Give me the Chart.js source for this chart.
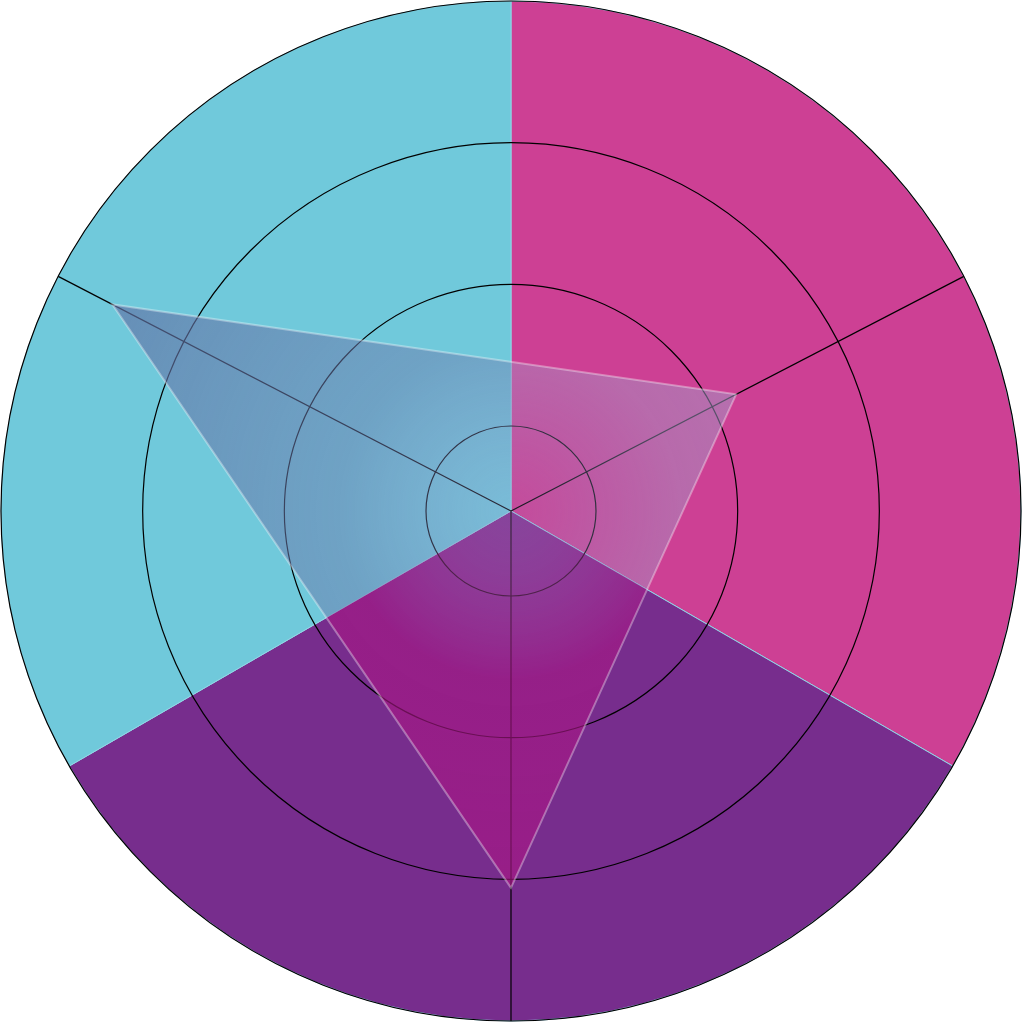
<!DOCTYPE html>
<html>
<head>
<meta charset="utf-8">
<script src="https://cdn.jsdelivr.net/npm/chart.js@4.4.0/dist/chart.umd.min.js"></script>
<style>
  html, body { margin: 0; padding: 0; background: #fff; }
  #wrap { position: relative; width: 1023px; height: 1022px; }
  #wrap canvas { position: absolute; left: 0; top: 0; }
</style>
</head>
<body>
<div id="wrap">
  <canvas id="bgChart" width="1023" height="1022"></canvas>
  <canvas id="radarChart" width="1023" height="1022"></canvas>
</div>
<script>
// background sectors (polar area, all at full scale)
const sectorLabels = ['Sector 1', 'Sector 2', 'Sector 3'];
const sectorValues = [4, 4, 4];
const sectorColors = ['#cd4094', '#772d8d', '#70c9db'];

// the radar series
const categories = ['Bottom', 'Left', 'Right'];
const seriesValues = [3.06, 3.57, 2.19];
const tickValues = [1, 2, 3, 4];
const scaleMin = 0.4;
const scaleMax = 4;

// spokes are not evenly spread, so the 3 categories sit on a finer ring of slots
const slotCount = 46;
const categorySlots = [0, 15, 31];

// tint the triangle lays over each sector, centre -> rim (same order as sectors)
const innerTints = ['rgba(150,140,200,0.15)', 'rgba(172,122,190,0.3)', 'rgba(150,150,205,0.25)'];
const midTints = ['rgba(163,149,195,0.5)', 'rgba(168,23,133,0.62)', 'rgba(110,125,175,0.5)'];
const outerTints = ['rgba(163,149,195,0.68)', 'rgba(168,23,133,0.68)', 'rgba(98,117,167,0.68)'];

const slotLabels = [];
const slotData = [];
for (let i = 0; i < slotCount; i++) {
    const k = categorySlots.indexOf(i);
    slotLabels.push(k >= 0 ? categories[k] : '');
    slotData.push(k >= 0 ? seriesValues[k] : null);
}

let fillPattern = null;
function triangleFill(ctx) {
    const chart = ctx.chart;
    const r = chart.scales.r;
    if (!r || !r.drawingArea) return 'rgba(255,255,255,0.3)';
    if (fillPattern) return fillPattern;
    const off = document.createElement('canvas');
    off.width = chart.canvas.width;
    off.height = chart.canvas.height;
    const c = off.getContext('2d');
    const cx = r.xCenter, cy = r.yCenter, R = r.drawingArea;
    const step = 2 * Math.PI / innerTints.length;
    innerTints.forEach((inner, i) => {
        const a0 = -Math.PI / 2 + i * step;
        const g = c.createRadialGradient(cx, cy, 0, cx, cy, R);
        g.addColorStop(0, inner);
        g.addColorStop(0.33, midTints[i]);
        g.addColorStop(0.85, outerTints[i]);
        g.addColorStop(1, outerTints[i]);
        c.fillStyle = g;
        c.beginPath();
        c.moveTo(cx, cy);
        c.arc(cx, cy, R + 2, a0, a0 + step);
        c.closePath();
        c.fill();
    });
    fillPattern = c.createPattern(off, 'no-repeat');
    return fillPattern;
}

new Chart(document.getElementById('bgChart'), {
    type: 'polarArea',
    data: {
        labels: sectorLabels,
        datasets: [{
            data: sectorValues,
            backgroundColor: sectorColors,
            borderColor: '#8fd4e4',
            borderWidth: 1
        }]
    },
    options: {
        responsive: false,
        animation: false,
        layout: { padding: 1 },
        plugins: { legend: { display: false }, tooltip: { enabled: false } },
        scales: {
            r: {
                min: 0,
                max: scaleMax,
                ticks: { display: false },
                grid: { display: false },
                angleLines: { display: false },
                pointLabels: { display: false }
            }
        }
    }
});

new Chart(document.getElementById('radarChart'), {
    type: 'radar',
    data: {
        labels: slotLabels,
        datasets: [{
            data: slotData,
            spanGaps: true,
            fill: true,
            backgroundColor: triangleFill,
            borderColor: 'rgba(255,255,255,0.35)',
            borderWidth: 2,
            borderJoinStyle: 'miter',
            pointRadius: 0,
            pointHoverRadius: 0
        }]
    },
    options: {
        responsive: false,
        animation: false,
        layout: { padding: 1 },
        plugins: { legend: { display: false }, tooltip: { enabled: false } },
        scales: {
            r: {
                min: scaleMin,
                max: scaleMax,
                startAngle: 180,
                afterBuildTicks: (scale) => {
                    scale.ticks = [scaleMin, ...tickValues].map(v => ({ value: v }));
                },
                ticks: { display: false },
                pointLabels: { display: false },
                grid: { circular: true, color: '#000', lineWidth: 1.2 },
                angleLines: {
                    color: '#000',
                    lineWidth: (ctx) => categorySlots.includes(ctx.index) ? 1.2 : 0
                }
            }
        }
    }
});
</script>
</body>
</html>
